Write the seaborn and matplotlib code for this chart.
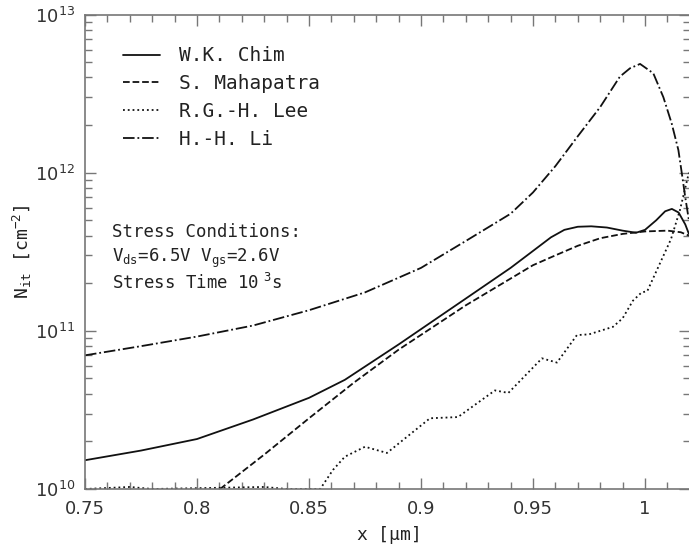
import numpy as np
import pandas as pd
import matplotlib
matplotlib.use('Agg')
import matplotlib.pyplot as plt
import matplotlib.ticker as mticker
import seaborn as sns

# W.K. Chim (solid)
chim_x = [0.75, 0.775, 0.80, 0.825, 0.85, 0.866, 0.89, 0.92, 0.94, 0.95, 0.958, 0.964,
          0.97, 0.976, 0.983, 0.99, 0.996, 1.0, 1.005, 1.009, 1.012, 1.015, 1.018, 1.0196]
chim_y = [1.52e10, 1.75e10, 2.07e10, 2.75e10, 3.77e10, 4.9e10, 8.2e10, 1.6e11, 2.5e11,
          3.2e11, 3.9e11, 4.35e11, 4.55e11, 4.58e11, 4.5e11, 4.3e11, 4.17e11, 4.35e11,
          5.0e11, 5.7e11, 5.9e11, 5.6e11, 4.7e11, 4.1e11]

# S. Mahapatra (dashed)
maha_x = [0.8103, 0.83, 0.85, 0.87, 0.89, 0.92, 0.95, 0.96, 0.97, 0.98, 0.99, 1.0,
          1.01, 1.016, 1.0196]
maha_y = [1.0e10, 1.65e10, 2.8e10, 4.7e10, 7.6e10, 1.45e11, 2.6e11, 3.0e11, 3.45e11,
          3.85e11, 4.1e11, 4.25e11, 4.3e11, 4.2e11, 4.0e11]

# R.G.-H. Lee (dotted)
lee_x = [0.75, 0.77, 0.78, 0.83, 0.84, 0.855, 0.8607, 0.866, 0.875, 0.8848, 0.904,
         0.9165, 0.933, 0.939, 0.954, 0.9607, 0.9696, 0.975, 0.9857, 0.99, 0.9946,
         0.9985, 1.001, 1.0116, 1.0156, 1.0196]
lee_y = [1.0e10, 1.03e10, 1.0e10, 1.03e10, 1.0e10, 1.0e10, 1.32e10, 1.6e10, 1.85e10,
         1.69e10, 2.8e10, 2.85e10, 4.2e10, 4.05e10, 6.7e10, 6.3e10, 9.4e10, 9.5e10,
         1.06e11, 1.2e11, 1.55e11, 1.75e11, 1.78e11, 3.8e11, 5.8e11, 1.0e12]

# H.-H. Li (dash-dot)
li_x = [0.75, 0.775, 0.80, 0.825, 0.85, 0.875, 0.90, 0.92, 0.94, 0.95, 0.96, 0.97,
        0.98, 0.9888, 0.9933, 0.9978, 1.0037, 1.0082, 1.0119, 1.0149, 1.0164, 1.0179,
        1.0196]
li_y = [7.0e10, 8.0e10, 9.2e10, 1.08e11, 1.35e11, 1.75e11, 2.5e11, 3.7e11, 5.5e11,
        7.5e11, 1.1e12, 1.7e12, 2.6e12, 4.05e12, 4.57e12, 4.87e12, 4.25e12, 3.0e12,
        2.05e12, 1.39e12, 1.0e12, 7.1e11, 5.0e11]

labels = ['W.K. Chim', 'S. Mahapatra', 'R.G.-H. Lee', 'H.-H. Li']
styles = ['-', '--', ':', '-.']

xticks = [0.75, 0.8, 0.85, 0.9, 0.95, 1.0]
xtick_labels = ['0.75', '0.8', '0.85', '0.9', '0.95', '1']

sns.set_style('ticks')
mono = 'DejaVu Sans Mono'

fig = plt.figure(figsize=(6.89, 5.48), dpi=100)
ax = fig.add_axes([85 / 689, 59 / 548, 604.8 / 689, 474.5 / 548])

series = [(chim_x, chim_y), (maha_x, maha_y), (lee_x, lee_y), (li_x, li_y)]
for (xs, ys), lab, ls in zip(series, labels, styles):
    df = pd.DataFrame({'x': xs, 'y': ys})
    sns.lineplot(data=df, x='x', y='y', ax=ax, color='#111111', linestyle=ls,
                 linewidth=1.3, label=lab)

ax.set_yscale('log')
ax.set_xlim(0.75, 1.02)
ax.set_ylim(1e10, 1e13)

ax.set_xticks(xticks)
ax.set_xticklabels(xtick_labels)
ax.xaxis.set_minor_locator(mticker.MultipleLocator(0.01))
ax.yaxis.set_major_locator(mticker.LogLocator(base=10))
ax.yaxis.set_minor_locator(mticker.LogLocator(base=10, subs=np.arange(2, 10)))
ax.yaxis.set_minor_formatter(mticker.NullFormatter())

ax.tick_params(which='both', direction='in', top=True, right=True,
               color='#777777', labelcolor='#333333', labelsize=13)
ax.tick_params(which='major', length=8, width=1)
ax.tick_params(which='minor', length=5, width=1)
ax.tick_params(axis='x', which='major', pad=8)
ax.tick_params(axis='y', which='major', pad=7)
for sp in ax.spines.values():
    sp.set_color('#777777')
    sp.set_linewidth(1.2)

ax.set_xlabel(r'x [$\mathtt{\mu}$m]', fontfamily=mono, fontsize=13, color='#222222')
ax.set_ylabel(r'N$_{\mathtt{it}}$ [cm$^{\mathtt{-2}}$]', fontfamily=mono,
              fontsize=13, color='#222222', labelpad=0.5)

leg = ax.legend(loc='upper left', bbox_to_anchor=(0.063, 0.9326), frameon=False,
                borderpad=0, borderaxespad=0, handlelength=1.9, handletextpad=1.0,
                labelspacing=0.45, prop={'family': mono, 'size': 14})
for t in leg.get_texts():
    t.set_color('#222222')

ax.text(0.045, 0.5416, 'Stress Conditions:', transform=ax.transAxes,
        fontfamily=mono, fontsize=12.5, va='center', color='#222222')
ax.text(0.045, 0.4868, r'V$_{\mathtt{ds}}$=6.5V V$_{\mathtt{gs}}$=2.6V',
        transform=ax.transAxes, fontfamily=mono, fontsize=12.5, va='center',
        color='#222222')
ax.text(0.045, 0.4341, r'Stress Time 10$\;^{\mathtt{3}}$s', transform=ax.transAxes,
        fontfamily=mono, fontsize=12.5, va='center', color='#222222')

fig.savefig('out.png', dpi=100)
